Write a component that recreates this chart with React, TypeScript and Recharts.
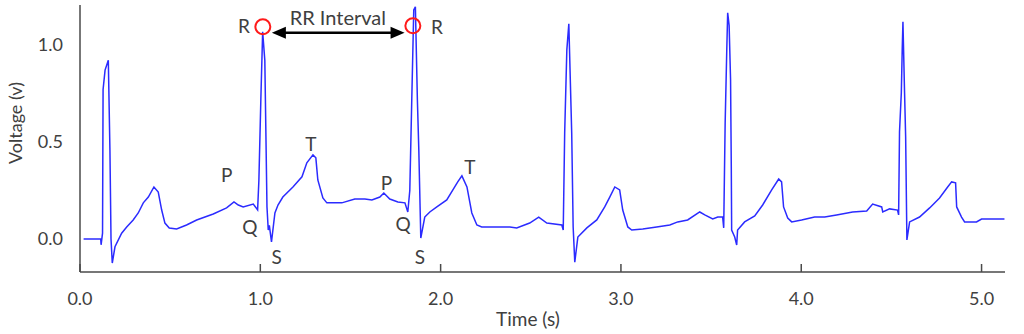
import { LineChart, Line, XAxis, YAxis, ReferenceDot, ReferenceLine } from "recharts";

// ECG trace (time in s, voltage in v)
const ecgTime = [
  0.02, 0.115, 0.117, 0.125, 0.128, 0.139, 0.157, 0.166, 0.172, 0.179, 0.194, 0.231, 0.259, 0.295, 0.323,
  0.351, 0.379, 0.41, 0.434, 0.453, 0.471, 0.495, 0.536, 0.591, 0.647, 0.739, 0.813, 0.854, 0.878, 0.905,
  0.961, 0.985, 0.992, 1.003, 1.013, 1.025, 1.037, 1.044, 1.05, 1.062, 1.081, 1.098, 1.125, 1.181, 1.231,
  1.258, 1.292, 1.308, 1.319, 1.347, 1.369, 1.452, 1.524, 1.58, 1.619, 1.663, 1.685, 1.718, 1.763, 1.802,
  1.818, 1.829, 1.84, 1.851, 1.86, 1.871, 1.879, 1.89, 1.912, 1.94, 1.979, 2.034, 2.068, 2.095, 2.118,
  2.146, 2.173, 2.201, 2.228, 2.384, 2.422, 2.494, 2.544, 2.589, 2.672, 2.68, 2.688, 2.7, 2.711, 2.727,
  2.735, 2.744, 2.761, 2.811, 2.866, 2.91, 2.938, 2.966, 2.993, 3.01, 3.038, 3.06, 3.121, 3.198, 3.271,
  3.315, 3.37, 3.437, 3.465, 3.509, 3.537, 3.564, 3.57, 3.578, 3.587, 3.592, 3.6, 3.608, 3.612, 3.614,
  3.631, 3.642, 3.647, 3.686, 3.742, 3.786, 3.836, 3.875, 3.891, 3.902, 3.925, 3.947, 4.002, 4.074, 4.13,
  4.196, 4.285, 4.363, 4.396, 4.446, 4.452, 4.49, 4.534, 4.54, 4.545, 4.555, 4.56, 4.564, 4.573, 4.579,
  4.586, 4.601, 4.656, 4.712, 4.767, 4.812, 4.834, 4.856, 4.862, 4.889, 4.906, 4.972, 5.0, 5.127,
];
const ecgVoltage = [
  0, 0, -0.03, 0.03, 0.77, 0.87, 0.92, 0.46, 0.0, -0.124, -0.04, 0.03, 0.062, 0.098, 0.134,
  0.186, 0.216, 0.268, 0.242, 0.149, 0.082, 0.057, 0.052, 0.072, 0.098, 0.129, 0.16, 0.191, 0.175, 0.165,
  0.18, 0.15, 0.3, 0.72, 1.067, 0.92, 0.165, 0.046, 0.07, -0.015, 0.134, 0.175, 0.216, 0.268, 0.32,
  0.392, 0.433, 0.418, 0.304, 0.211, 0.186, 0.186, 0.206, 0.206, 0.201, 0.216, 0.237, 0.206, 0.191, 0.186,
  0.139, 0.25, 0.72, 1.18, 1.196, 0.72, 0.46, 0.005, 0.113, 0.139, 0.165, 0.201, 0.253, 0.294, 0.325,
  0.268, 0.134, 0.072, 0.062, 0.062, 0.057, 0.082, 0.113, 0.082, 0.072, 0.046, 0.546, 0.974, 1.108, 0.546,
  0.062, -0.119, 0.01, 0.057, 0.098, 0.165, 0.216, 0.268, 0.253, 0.149, 0.062, 0.046, 0.052, 0.062, 0.072,
  0.088, 0.098, 0.139, 0.124, 0.103, 0.113, 0.113, 0.057, 0.598, 0.974, 1.165, 1.1, 0.82, 0.371, 0.046,
  0.01, -0.031, 0.046, 0.088, 0.119, 0.175, 0.253, 0.309, 0.294, 0.165, 0.108, 0.088, 0.098, 0.113, 0.113,
  0.124, 0.139, 0.144, 0.18, 0.165, 0.139, 0.155, 0.149, 0.124, 0.552, 0.753, 0.974, 1.119, 0.753, 0.526,
  -0.005, 0.088, 0.113, 0.16, 0.211, 0.268, 0.294, 0.289, 0.165, 0.113, 0.088, 0.088, 0.103, 0.103,
];

const xTicks = [0, 1, 2, 3, 4, 5];
const yTicks = [0, 0.5, 1.0];

// wave labels (time, voltage)
const waveLabels = [
  { t: 0.909, v: 1.093, text: "R" },
  { t: 1.979, v: 1.088, text: "R" },
  { t: 0.813, v: 0.33, text: "P" },
  { t: 0.942, v: 0.062, text: "Q" },
  { t: 1.09, v: -0.093, text: "S" },
  { t: 1.28, v: 0.49, text: "T" },
  { t: 1.7, v: 0.289, text: "P" },
  { t: 1.792, v: 0.077, text: "Q" },
  { t: 1.885, v: -0.093, text: "S" },
  { t: 2.162, v: 0.371, text: "T" },
];
const rPeaks = [
  { t: 1.014, v: 1.093 },
  { t: 1.846, v: 1.098 },
];
const rrArrow = { from: 1.064, to: 1.8, v: 1.062, title: "RR Interval", titleT: 1.43, titleV: 1.139 };

const data = ecgTime.map((t, i) => ({ t, v: ecgVoltage[i] }));

const FONT = "Lato, 'Open Sans', sans-serif";
const TEXT = "#404040";
const FRAME = "#4a4a4a";

const BottomTick = (props: any) => {
  const { x, y, payload } = props;
  return (
    <g>
      <line x1={x} y1={y} x2={x} y2={y - 8} stroke={FRAME} strokeWidth={1.5} />
      <text x={x} y={y + 33} textAnchor="middle" fill={TEXT} fontSize={18} fontFamily={FONT}>
        {Number(payload.value).toFixed(1)}
      </text>
    </g>
  );
};

const TopTick = (props: any) => {
  const { x, y } = props;
  return <line x1={x} y1={y} x2={x} y2={y + 8} stroke={FRAME} strokeWidth={1.5} />;
};

const Arrow = (p: any) => {
  const { x1, y1, x2, y2 } = p;
  const h = 14;
  const w = 6;
  return (
    <g>
      <line x1={x1 + h - 1} y1={y1} x2={x2 - h + 1} y2={y2} stroke="#000" strokeWidth={2.5} />
      <polygon points={`${x1},${y1} ${x1 + h},${y1 - w} ${x1 + h},${y1 + w}`} fill="#000" />
      <polygon points={`${x2},${y2} ${x2 - h},${y2 - w} ${x2 - h},${y2 + w}`} fill="#000" />
    </g>
  );
};

export default function App() {
  const xDomain = [0, 5.13];
  const yDomain = [-0.17, 1.205];
  return (
    <div style={{ position: "absolute", left: 0, top: 0, background: "#fff" }}>
      <LineChart width={1024} height={334} data={data} margin={{ top: 5, right: 19, left: 20, bottom: 0 }}>
        <XAxis
          dataKey="t"
          type="number"
          domain={xDomain}
          allowDataOverflow
          ticks={xTicks}
          interval={0}
          height={62}
          tickSize={0}
          tickMargin={0}
          tickLine={false}
          axisLine={{ stroke: FRAME, strokeWidth: 1.5 }}
          tick={<BottomTick />}
        />
        <XAxis
          xAxisId="top"
          orientation="top"
          dataKey="t"
          type="number"
          domain={xDomain}
          allowDataOverflow
          ticks={xTicks}
          interval={0}
          height={0}
          tickSize={0}
          tickMargin={0}
          tickLine={false}
          axisLine={{ stroke: FRAME, strokeWidth: 1.5 }}
          tick={<TopTick />}
        />
        <YAxis
          type="number"
          domain={yDomain}
          allowDataOverflow
          ticks={yTicks}
          width={60}
          tickSize={0}
          tickMargin={17}
          tickLine={false}
          axisLine={{ stroke: FRAME, strokeWidth: 1.5 }}
          tickFormatter={(v: number) => v.toFixed(1)}
          tick={{ fill: TEXT, fontSize: 18, fontFamily: FONT }}
        />
        <YAxis
          yAxisId="right"
          orientation="right"
          type="number"
          domain={yDomain}
          allowDataOverflow
          width={0}
          tick={false}
          tickLine={false}
          axisLine={{ stroke: FRAME, strokeWidth: 1.5 }}
        />
        <Line
          dataKey="v"
          type="linear"
          stroke="#2b2bff"
          strokeWidth={1.5}
          dot={false}
          isAnimationActive={false}
        />
        <ReferenceLine
          segment={[
            { x: rrArrow.from, y: rrArrow.v },
            { x: rrArrow.to, y: rrArrow.v },
          ]}
          shape={Arrow}
        />
        <ReferenceDot
          x={rrArrow.titleT}
          y={rrArrow.titleV}
          r={0}
          stroke="none"
          fill="none"
          label={{ value: rrArrow.title, position: "center", fill: TEXT, fontSize: 20, fontFamily: FONT }}
        />
        {rPeaks.map((p, i) => (
          <ReferenceDot key={"r" + i} x={p.t} y={p.v} r={7.5} fill="none" stroke="#ff1a1a" strokeWidth={2} />
        ))}
        {waveLabels.map((w, i) => (
          <ReferenceDot
            key={"w" + i}
            x={w.t}
            y={w.v}
            r={0}
            stroke="none"
            fill="none"
            label={{ value: w.text, position: "center", fill: TEXT, fontSize: 19, fontFamily: FONT }}
          />
        ))}
        <text
          x={15}
          y={123}
          transform="rotate(-90, 15, 123)"
          textAnchor="middle"
          dominantBaseline="central"
          fill={TEXT}
          fontSize={18}
          fontFamily={FONT}
        >
          Voltage (v)
        </text>
        <text x={528} y={326} textAnchor="middle" fill={TEXT} fontSize={19} fontFamily={FONT}>
          Time (s)
        </text>
      </LineChart>
    </div>
  );
}
